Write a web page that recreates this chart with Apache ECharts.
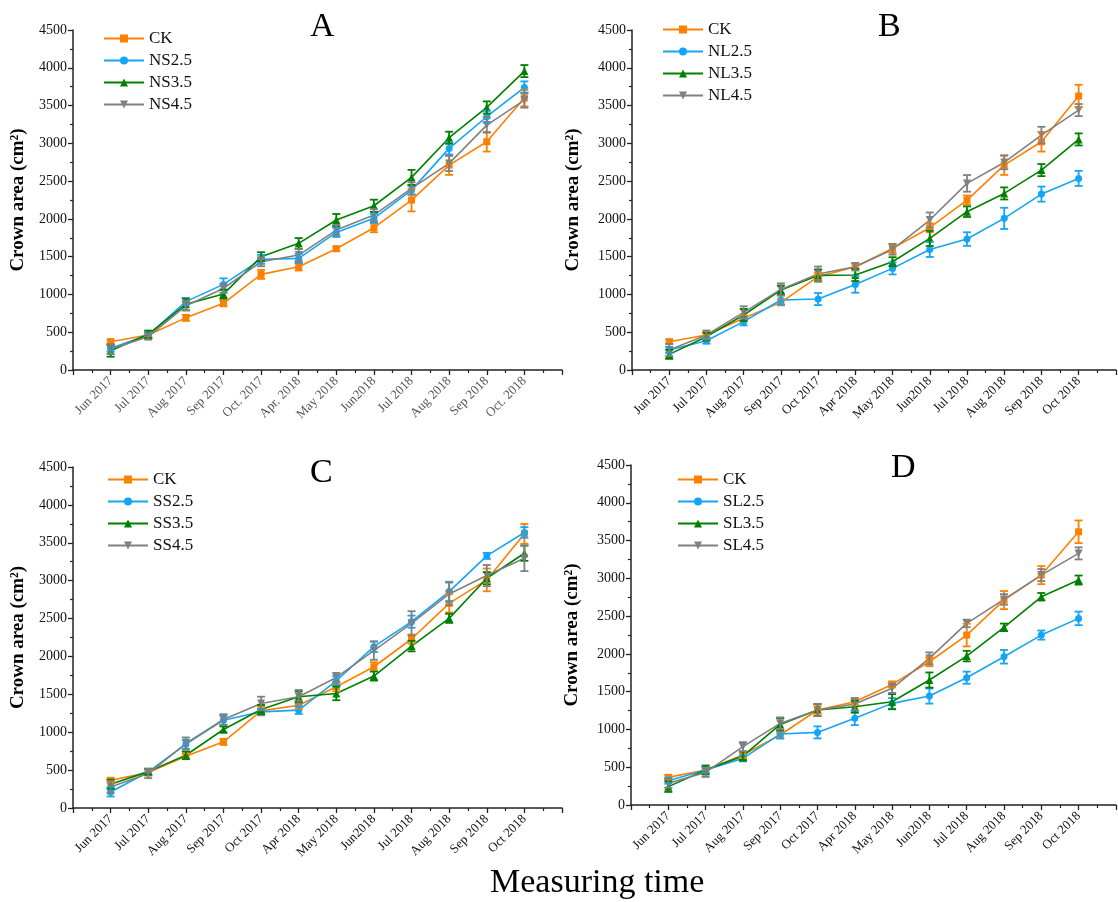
<!DOCTYPE html>
<html>
<head>
<meta charset="utf-8">
<script src="https://cdn.jsdelivr.net/npm/echarts@6/dist/echarts.min.js"></script>
<style>
  html, body { margin: 0; padding: 0; background: #fff; }
  #chart { width: 1118px; height: 902px; }
</style>
</head>
<body>
<div id="chart"></div>
<script>
// Measuring dates (panel A uses abbreviations with periods)
const datesA = ['Jun 2017', 'Jul 2017', 'Aug 2017', 'Sep 2017', 'Oct. 2017', 'Apr. 2018',
  'May 2018', 'Jun2018', 'Jul 2018', 'Aug 2018', 'Sep 2018', 'Oct. 2018'];
const datesBCD = ['Jun 2017', 'Jul 2017', 'Aug 2017', 'Sep 2017', 'Oct 2017', 'Apr 2018',
  'May 2018', 'Jun2018', 'Jul 2018', 'Aug 2018', 'Sep 2018', 'Oct 2018'];

// Crown area ticks (cm²)
const yMin = 0, yMax = 4500, yStep = 500;

// Panel A
const ckA   = [375, 463, 690, 882, 1266, 1367, 1605, 1883, 2249, 2712, 3021, 3600];
const ns25  = [287, 463, 905, 1133, 1464, 1477, 1821, 2007, 2381, 2933, 3352, 3740];
const ns35  = [256, 472, 869, 1005, 1499, 1676, 1985, 2174, 2549, 3074, 3475, 3956];
const ns45  = [278, 441, 850, 1080, 1433, 1521, 1852, 2050, 2403, 2734, 3241, 3572];
const ckAErr  = [30, 30, 40, 40, 60, 50, 30, 60, 150, 130, 130, 110];
const ns25Err = [40, 40, 40, 80, 60, 60, 60, 60, 60, 80, 80, 80];
const ns35Err = [80, 50, 80, 60, 60, 70, 80, 80, 100, 80, 80, 80];
const ns45Err = [60, 40, 60, 60, 60, 80, 70, 80, 80, 100, 100, 100];

// Panel B
const ckB   = [375, 463, 684, 895, 1235, 1367, 1610, 1883, 2249, 2712, 3021, 3625];
const nl25  = [265, 388, 640, 926, 939, 1133, 1345, 1596, 1733, 2007, 2328, 2536];
const nl35  = [207, 441, 728, 1058, 1252, 1257, 1433, 1742, 2095, 2337, 2646, 3052];
const nl45  = [265, 463, 763, 1067, 1270, 1367, 1596, 1985, 2470, 2747, 3109, 3440];
const ckBErr  = [30, 40, 40, 40, 50, 40, 60, 60, 60, 130, 130, 150];
const nl25Err = [40, 40, 50, 60, 80, 110, 80, 100, 90, 140, 100, 100];
const nl35Err = [60, 50, 80, 60, 80, 80, 60, 100, 70, 80, 80, 80];
const nl45Err = [80, 60, 80, 80, 100, 50, 70, 100, 110, 90, 110, 80];

// Panel C
const ckC   = [366, 467, 683, 873, 1282, 1357, 1600, 1864, 2230, 2701, 3010, 3618];
const ss25  = [212, 476, 842, 1159, 1269, 1291, 1679, 2129, 2459, 2856, 3327, 3636];
const ss35  = [313, 480, 696, 1036, 1300, 1468, 1512, 1741, 2137, 2503, 3032, 3362];
const ss45  = [278, 454, 851, 1168, 1379, 1468, 1723, 2076, 2437, 2825, 3067, 3296];
const ckCErr  = [30, 40, 40, 40, 60, 50, 60, 60, 60, 120, 150, 130];
const ss25Err = [60, 40, 60, 60, 40, 50, 60, 70, 80, 130, 40, 70];
const ss35Err = [60, 40, 50, 40, 60, 70, 90, 60, 70, 60, 80, 100];
const ss45Err = [80, 60, 80, 70, 90, 90, 60, 120, 160, 150, 140, 170];

// Panel D
const ckD   = [366, 463, 662, 926, 1257, 1367, 1596, 1896, 2249, 2712, 3043, 3616];
const sl25  = [322, 463, 617, 939, 961, 1147, 1345, 1442, 1685, 1962, 2249, 2470];
const sl35  = [243, 463, 648, 1067, 1257, 1301, 1367, 1654, 1971, 2351, 2756, 2977];
const sl45  = [287, 432, 772, 1080, 1257, 1336, 1544, 1940, 2403, 2721, 3043, 3330];
const ckDErr  = [30, 40, 40, 40, 50, 40, 40, 60, 150, 120, 120, 150];
const sl25Err = [40, 40, 40, 60, 80, 90, 70, 100, 80, 90, 60, 90];
const sl35Err = [70, 60, 60, 80, 80, 80, 100, 100, 70, 50, 50, 60];
const sl45Err = [60, 60, 60, 80, 80, 80, 60, 80, 50, 70, 80, 80];

const COLORS = { ck: '#FF8000', c25: '#14A5F5', c35: '#008000', c45: '#808080' };
const SYMBOLS = {
  ck: 'rect',
  c25: 'circle',
  c35: 'triangle',
  c45: 'path://M0,0 L10,0 L5,9 Z'
};
const SERIF = '"Liberation Serif", "Times New Roman", serif';

const panels = [
  { letter: 'A', dates: datesA, labelColor: '#555', grid: { left: 73, top: 30, width: 489, height: 340 },
    nameGap: 45, letterPos: [322, 28], legendPos: [98, 24],
    groups: [
      { name: 'CK', key: 'ck', vals: ckA, err: ckAErr },
      { name: 'NS2.5', key: 'c25', vals: ns25, err: ns25Err },
      { name: 'NS3.5', key: 'c35', vals: ns35, err: ns35Err },
      { name: 'NS4.5', key: 'c45', vals: ns45, err: ns45Err }
    ] },
  { letter: 'B', dates: datesBCD, labelColor: '#111', grid: { left: 632, top: 30, width: 489, height: 340 },
    nameGap: 49, letterPos: [890, 28], legendPos: [657, 15],
    groups: [
      { name: 'CK', key: 'ck', vals: ckB, err: ckBErr },
      { name: 'NL2.5', key: 'c25', vals: nl25, err: nl25Err },
      { name: 'NL3.5', key: 'c35', vals: nl35, err: nl35Err },
      { name: 'NL4.5', key: 'c45', vals: nl45, err: nl45Err }
    ] },
  { letter: 'C', dates: datesBCD, labelColor: '#111', grid: { left: 73, top: 467, width: 489, height: 341 },
    nameGap: 45, letterPos: [322, 474], legendPos: [102, 465],
    groups: [
      { name: 'CK', key: 'ck', vals: ckC, err: ckCErr },
      { name: 'SS2.5', key: 'c25', vals: ss25, err: ss25Err },
      { name: 'SS3.5', key: 'c35', vals: ss35, err: ss35Err },
      { name: 'SS4.5', key: 'c45', vals: ss45, err: ss45Err }
    ] },
  { letter: 'D', dates: datesBCD, labelColor: '#111', grid: { left: 631, top: 465, width: 489, height: 340 },
    nameGap: 49, letterPos: [903, 469], legendPos: [672, 465],
    groups: [
      { name: 'CK', key: 'ck', vals: ckD, err: ckDErr },
      { name: 'SL2.5', key: 'c25', vals: sl25, err: sl25Err },
      { name: 'SL3.5', key: 'c35', vals: sl35, err: sl35Err },
      { name: 'SL4.5', key: 'c45', vals: sl45, err: sl45Err }
    ] }
];

function errorBarItem(params, api) {
  const x = api.value(0);
  const lo = api.coord([x, api.value(1)]);
  const hi = api.coord([x, api.value(2)]);
  const w = 4;
  const style = { stroke: api.visual('color'), lineWidth: 1.8 };
  return {
    type: 'group',
    children: [
      { type: 'line', shape: { x1: hi[0], y1: hi[1], x2: lo[0], y2: lo[1] }, style },
      { type: 'line', shape: { x1: hi[0] - w, y1: hi[1], x2: hi[0] + w, y2: hi[1] }, style },
      { type: 'line', shape: { x1: lo[0] - w, y1: lo[1], x2: lo[0] + w, y2: lo[1] }, style }
    ]
  };
}

const option = {
  animation: false,
  backgroundColor: '#fff',
  grid: [], xAxis: [], yAxis: [], series: [], legend: [],
  graphic: []
};

panels.forEach((p, i) => {
  option.grid.push(Object.assign({ containLabel: false }, p.grid));
  option.xAxis.push({
    type: 'value', gridIndex: i, min: 0, max: p.dates.length + 1, interval: 1,
    splitLine: { show: false },
    axisLine: { lineStyle: { color: '#222', width: 1.5 } },
    axisTick: { inside: false, length: 5, lineStyle: { color: '#222', width: 1.3 } },
    minorTick: { show: true, splitNumber: 2, length: 3, lineStyle: { color: '#222', width: 1.2 } },
    axisLabel: {
      rotate: 45, margin: 9, fontFamily: SERIF, fontSize: 13, color: p.labelColor,
      formatter: v => (v >= 1 && v <= p.dates.length) ? p.dates[v - 1] : ''
    }
  });
  option.yAxis.push({
    type: 'value', gridIndex: i, min: yMin, max: yMax, interval: yStep,
    name: 'Crown area (cm²)', nameLocation: 'middle', nameGap: p.nameGap,
    nameTextStyle: { fontFamily: SERIF, fontWeight: 'bold', fontSize: 19, color: '#000' },
    splitLine: { show: false },
    axisLine: { show: true, lineStyle: { color: '#222', width: 1.5 } },
    axisTick: { show: true, length: 5, lineStyle: { color: '#222', width: 1.3 } },
    minorTick: { show: true, splitNumber: 2, length: 3, lineStyle: { color: '#222', width: 1.2 } },
    axisLabel: { fontFamily: SERIF, fontSize: 14, color: '#111', margin: 6, formatter: v => String(v) }
  });
  p.groups.forEach(g => {
    option.series.push({
      type: 'line', name: g.name, xAxisIndex: i, yAxisIndex: i,
      data: g.vals.map((v, k) => [k + 1, v]),
      symbol: SYMBOLS[g.key], symbolSize: g.key === 'ck' || g.key === 'c25' ? 7 : 8,
      lineStyle: { color: COLORS[g.key], width: 1.6 },
      itemStyle: { color: COLORS[g.key] },
      z: 3
    });
  });
  p.groups.forEach(g => {
    option.series.push({
      type: 'custom', name: g.name + ' error', xAxisIndex: i, yAxisIndex: i,
      renderItem: errorBarItem,
      itemStyle: { color: COLORS[g.key] },
      data: g.vals.map((v, k) => [k + 1, v - g.err[k], v + g.err[k]]),
      encode: { x: 0, y: [1, 2] },
      z: 4
    });
  });
  option.legend.push({
    left: p.legendPos[0], top: p.legendPos[1], orient: 'vertical',
    itemWidth: 40, itemHeight: 10, itemGap: 3,
    data: p.groups.map(g => g.name),
    textStyle: { fontFamily: SERIF, fontSize: 17, color: '#111', lineHeight: 19 },
    selectedMode: false
  });
  option.graphic.push({
    type: 'text', left: p.letterPos[0] - 12, top: p.letterPos[1] - 18,
    style: { text: p.letter, font: '34px ' + SERIF, fill: '#000' }
  });
});

option.graphic.push({
  type: 'text', left: 490, top: 866,
  style: { text: 'Measuring time', font: '34px ' + SERIF, fill: '#000' }
});

const chart = echarts.init(document.getElementById('chart'), null, { renderer: 'canvas' });
chart.setOption(option);
</script>
</body>
</html>
